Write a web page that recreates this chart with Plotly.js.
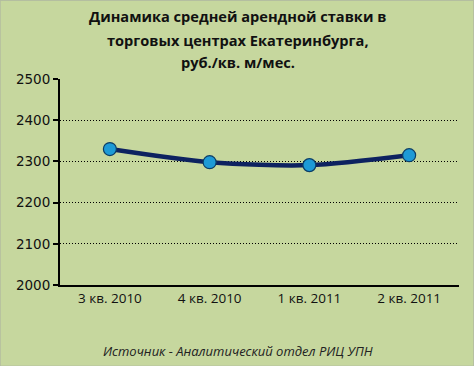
<!DOCTYPE html>
<html><head><meta charset="utf-8">
<script src="https://cdn.plot.ly/plotly-3.0.1.min.js"></script>
<style>html,body{margin:0;padding:0;background:#c6d79e;}#chart{width:474px;height:366px;}</style>
</head><body><div id="chart"></div>
<script>
const categories = ["3 кв. 2010", "4 кв. 2010", "1 кв. 2011", "2 кв. 2011"];
const rentValues = [2330, 2298, 2291, 2315];
const yTicks = [2000, 2100, 2200, 2300, 2400, 2500];
const titleLines = ["Динамика средней арендной ставки в", "торговых центрах Екатеринбурга,", "руб./кв. м/мес."];
const sourceText = "Источник - Аналитический отдел РИЦ УПН";

const trace = {
  x: categories, y: rentValues, type: "scatter", mode: "lines+markers",
  line: {color: "#0d2260", width: 4.5, shape: "spline", smoothing: 0.8},
  marker: {size: 13, color: "#1d9ad6", line: {color: "#0b3d66", width: 1.2}},
  hoverinfo: "skip"
};
const titleY = [1.306, 1.19, 1.083];
const titleAnns = titleLines.map((t, i) => ({
  text: "<b>" + t + "</b>", xref: "paper", yref: "paper", x: 0.445, y: titleY[i],
  xanchor: "center", yanchor: "middle", showarrow: false,
  font: {family: "Open Sans, Noto Sans, sans-serif", size: 14.6, color: "#111"}
}));
const layout = {
  width: 474, height: 366,
  paper_bgcolor: "#c6d79e", plot_bgcolor: "#c6d79e",
  margin: {l: 60, r: 15, t: 79, b: 81},
  showlegend: false,
  xaxis: {type: "category", showgrid: false, zeroline: false,
          showline: true, linecolor: "#000", linewidth: 2, ticks: "",
          tickfont: {family: "Open Sans, sans-serif", size: 13.5, color: "#111"},
          range: [-0.5, 3.5]},
  yaxis: {range: [2000, 2500], tickvals: yTicks, ticktext: yTicks.map(String),
          showgrid: true, gridcolor: "#000", griddash: "1px,2px", gridwidth: 1,
          zeroline: false, showline: true, linecolor: "#000", linewidth: 2,
          ticks: "outside", ticklen: 5, tickcolor: "#000", tickwidth: 2,
          tickfont: {family: "DejaVu Sans, sans-serif", size: 13.5, color: "#111"}},
  annotations: titleAnns.concat([{text: sourceText, xref: "paper", yref: "paper", x: 0.445, y: -0.32,
                 xanchor: "center", yanchor: "middle", showarrow: false,
                 font: {family: "Open Sans, sans-serif", size: 13, color: "#222", style: "italic"}}]),
  shapes: [{type: "rect", xref: "paper", yref: "paper", x0: -0.15, x1: 1.037, y0: -0.394, y1: 1.382,
            line: {color: "#b0b8a0", width: 1}, fillcolor: "rgba(0,0,0,0)", layer: "below"}]
};
Plotly.newPlot("chart", [trace], layout, {staticPlot: true, displayModeBar: false});
</script></body></html>
